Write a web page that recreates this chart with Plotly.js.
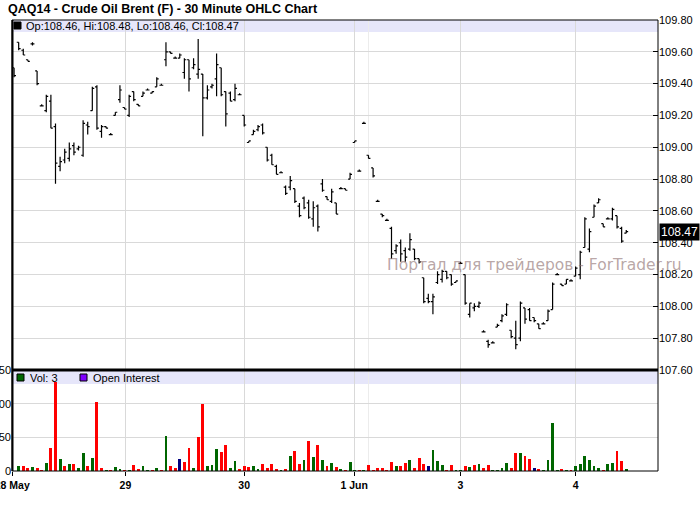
<!DOCTYPE html>
<html><head><meta charset="utf-8">
<script src="https://cdn.plot.ly/plotly-3.0.1.min.js"></script>
<style>html,body{margin:0;padding:0;background:#fff;}#chart{width:700px;height:512px;}</style>
</head><body><div id="chart"></div>
<script>
const chartTitle = 'QAQ14 - Crude Oil Brent (F) - 30 Minute OHLC Chart';
const watermark = 'Портал для трейдеров - ForTrader.ru';
const dayTicks = [-0.4, 24.2, 50.0, 73.9, 97.0, 122.0];
const dayLabels = ['28 May', '29', '30', '1 Jun', '3', '4'];
const minorDayTicks = [77.0];
const priceTicks = [107.6, 107.8, 108.0, 108.2, 108.4, 108.6, 108.8, 109.0, 109.2, 109.4, 109.6, 109.8];
const volTicks = [0, 50, 100, 150];

const openP = [109.50,109.66,109.61,109.55,109.65,109.48,109.26,109.23,109.29,109.13,108.88,108.92,108.93,109.01,108.99,108.95,109.14,109.23,109.38,109.10,
109.13,109.08,109.20,109.30,109.25,109.20,109.35,109.27,109.32,109.36,109.34,109.38,109.39,109.55,109.60,109.56,109.56,109.47,109.55,109.50,
109.46,109.46,109.31,109.38,109.43,109.50,109.35,109.34,109.30,109.33,109.20,109.03,109.08,109.11,109.14,109.00,108.95,108.88,108.84,108.75,
108.75,108.74,108.63,108.68,108.65,108.55,108.63,108.77,108.69,108.66,108.65,108.74,108.74,108.80,109.03,108.85,109.15,108.95,108.87,108.66,
108.58,108.54,108.49,108.35,108.40,108.35,108.36,108.36,108.30,108.18,108.05,108.03,108.15,108.17,108.22,108.20,108.15,108.27,108.20,107.95,
107.99,108.00,107.84,107.78,107.77,107.87,107.91,107.95,107.85,107.80,107.80,107.99,107.98,107.93,107.89,107.89,107.91,107.98,108.20,108.14,
108.14,108.16,108.19,108.20,108.37,108.36,108.56,108.65,108.52,108.55,108.55,108.57,108.49,108.46];
const highP = [109.50,109.66,109.62,109.55,109.66,109.48,109.27,109.33,109.33,109.15,108.94,108.99,109.03,109.03,109.01,109.17,109.16,109.38,109.39,109.14,
109.13,109.09,109.22,109.39,109.25,109.33,109.35,109.27,109.35,109.37,109.35,109.44,109.40,109.66,109.60,109.57,109.59,109.56,109.55,109.56,
109.68,109.46,109.39,109.40,109.59,109.50,109.35,109.35,109.40,109.34,109.20,109.04,109.11,109.14,109.15,109.00,108.96,108.89,108.85,108.76,
108.82,108.74,108.65,108.69,108.67,108.66,108.64,108.80,108.69,108.74,108.65,108.75,108.74,108.84,109.04,108.86,109.16,108.95,108.87,108.67,
108.58,108.55,108.50,108.39,108.42,108.37,108.46,108.36,108.30,108.18,108.08,108.08,108.22,108.23,108.22,108.20,108.16,108.28,108.20,108.02,
108.02,108.03,107.85,107.79,107.78,107.89,107.95,108.02,107.85,107.91,108.03,107.99,107.99,107.93,107.89,107.90,107.98,108.15,108.21,108.14,
108.17,108.17,108.25,108.35,108.56,108.49,108.64,108.68,108.52,108.56,108.62,108.57,108.50,108.48];
const lowP = [109.44,109.61,109.58,109.54,109.64,109.39,109.26,109.22,109.12,108.77,108.85,108.90,108.91,108.95,108.98,108.94,109.08,109.23,109.11,109.06,
109.12,109.08,109.20,109.28,109.24,109.19,109.29,109.26,109.32,109.36,109.34,109.38,109.39,109.51,109.59,109.56,109.56,109.43,109.35,109.49,
109.43,109.07,109.30,109.37,109.32,109.32,109.13,109.29,109.29,109.33,109.13,109.03,109.08,109.10,109.08,108.91,108.89,108.83,108.84,108.70,
108.73,108.65,108.56,108.61,108.55,108.50,108.47,108.72,108.67,108.65,108.58,108.74,108.73,108.80,109.03,108.85,109.15,108.93,108.81,108.66,
108.56,108.54,108.30,108.33,108.28,108.28,108.35,108.29,108.27,108.02,108.02,107.95,108.14,108.15,108.17,108.13,108.15,108.27,108.01,107.93,
107.97,107.99,107.84,107.74,107.77,107.87,107.90,107.94,107.80,107.73,107.78,107.89,107.91,107.90,107.86,107.89,107.91,107.98,108.20,108.13,
108.14,108.16,108.19,108.17,108.37,108.34,108.56,108.65,108.50,108.55,108.54,108.49,108.40,108.46];
const closeP = [109.45,109.62,109.58,109.54,109.65,109.40,109.26,109.32,109.12,108.90,108.91,108.97,108.99,108.97,109.00,109.15,109.13,109.37,109.12,109.13,
109.12,109.08,109.22,109.36,109.24,109.32,109.30,109.26,109.34,109.36,109.35,109.43,109.39,109.60,109.59,109.56,109.58,109.55,109.43,109.52,
109.49,109.31,109.36,109.39,109.52,109.33,109.21,109.29,109.37,109.33,109.14,109.04,109.10,109.13,109.09,108.92,108.89,108.83,108.84,108.71,
108.79,108.66,108.57,108.62,108.56,108.62,108.50,108.73,108.67,108.72,108.58,108.74,108.73,108.83,109.04,108.85,109.15,108.93,108.82,108.66,
108.57,108.54,108.33,108.38,108.33,108.31,108.42,108.30,108.28,108.03,108.03,108.06,108.20,108.22,108.18,108.14,108.16,108.27,108.02,108.02,
108.00,108.02,107.84,107.76,107.77,107.88,107.94,108.01,107.81,107.76,108.02,107.92,107.91,107.91,107.86,107.89,107.97,108.14,108.20,108.13,
108.17,108.16,108.24,108.34,108.55,108.47,108.63,108.67,108.50,108.55,108.61,108.50,108.41,108.47];
const volume = [0,8,8,5,6,5,2,12,34,132,18,8,11,11,5,26,8,20,103,5,
2,2,6,3,2,2,9,3,8,2,2,5,2,52,8,5,18,14,34,5,
50,99,8,9,32,28,38,5,15,3,8,6,8,3,11,5,11,3,2,3,
23,29,11,17,44,21,38,17,8,12,6,3,2,14,2,2,2,9,2,5,
5,2,14,8,8,12,17,5,20,11,8,31,15,9,2,9,2,2,8,6,
9,11,5,9,2,2,5,12,5,26,27,23,18,5,3,2,17,72,2,3,
2,2,8,11,23,17,8,5,2,11,12,29,15,3];
const volDir = ['n','u','d','d','u','d','d','u','d','d','u','d','u','d','u','u','d','u','d','d',
'u','d','u','u','d','u','d','d','u','u','d','u','d','u','d','d','n','d','d','u',
'd','d','u','u','u','d','d','u','u','d','d','d','u','u','d','d','d','d','u','d',
'u','d','d','u','d','u','d','u','d','u','d','u','d','u','u','d','u','d','d','d',
'd','d','d','u','d','d','u','d','d','d','n','u','u','u','d','d','u','u','d','u',
'd','u','d','d','u','u','u','u','d','d','u','d','d','n','d','u','u','u','u','d',
'u','d','u','u','u','u','u','u','d','u','u','d','d','u'];

const n = openP.length;
const xIdx = openP.map((_, i) => i);
const dirColor = {u: '#006600', d: '#ff0000', n: '#000080'};
const volColors = volDir.map(d => dirColor[d]);

// pixel helpers for decoration placement
const L = 12, R = 42, T = 20, B = 41, W = 700, H = 512;
const PW = W - L - R, PH = H - T - B;
const px = v => (v - L) / PW;
const py = v => 1 - (v - T) / PH;
const volTop = 370;
const splitY = py(volTop);

const FONT = 'Liberation Sans, Arial, sans-serif';
const gridCol = '#d9d9d9';

const traces = [
  {type: 'ohlc', x: xIdx, open: openP, high: highP, low: lowP, close: closeP,
   xaxis: 'x', yaxis: 'y', tickwidth: 0.42,
   increasing: {line: {color: '#000', width: 1.2}},
   decreasing: {line: {color: '#000', width: 1.2}},
   hoverinfo: 'skip'},
  {type: 'bar', x: xIdx, y: volume, xaxis: 'x', yaxis: 'y2',
   marker: {color: volColors, line: {width: 0}}, width: 0.62, hoverinfo: 'skip'}
];

const shapes = [
  {type: 'rect', xref: 'paper', yref: 'paper', x0: 0, x1: 1, y0: py(32), y1: 1, fillcolor: '#e6e6fa', line: {width: 0}, layer: 'below'},
  {type: 'rect', xref: 'paper', yref: 'paper', x0: 0, x1: 1, y0: py(384), y1: splitY, fillcolor: '#e6e6fa', line: {width: 0}, layer: 'below'},
  {type: 'line', xref: 'x', yref: 'paper', x0: minorDayTicks[0], x1: minorDayTicks[0], y0: 0, y1: 1, line: {color: '#ececec', width: 1}, layer: 'below'},
  {type: 'rect', xref: 'paper', yref: 'paper', x0: 0, x1: 1, y0: 0, y1: 1, line: {color: '#000', width: 1}},
  {type: 'line', xref: 'paper', yref: 'paper', x0: px(12.5), x1: px(12.5), y0: 0, y1: 1, line: {color: '#000', width: 2}},
  {type: 'line', xref: 'paper', yref: 'paper', x0: 0, x1: 1, y0: splitY, y1: splitY, line: {color: '#000', width: 3}},
  {type: 'rect', xref: 'paper', yref: 'paper', x0: px(14), x1: px(21), y0: py(29), y1: py(22), fillcolor: '#000', line: {color: '#000', width: 1}},
  {type: 'rect', xref: 'paper', yref: 'paper', x0: px(17), x1: px(24), y0: py(381), y1: py(374), fillcolor: '#006600', line: {color: '#000', width: 1}},
  {type: 'rect', xref: 'paper', yref: 'paper', x0: px(80), x1: px(87), y0: py(381), y1: py(374), fillcolor: '#8000ff', line: {color: '#000', width: 1}}
];

const last = n - 1;
const annotations = [
  {xref: 'paper', yref: 'paper', x: px(24), y: py(26), xanchor: 'left', yanchor: 'middle', showarrow: false,
   text: 'Op:' + openP[last].toFixed(2) + ', Hi:' + highP[last].toFixed(2) + ', Lo:' + lowP[last].toFixed(2) + ', Cl:' + closeP[last].toFixed(2),
   font: {family: FONT, size: 11, color: '#000'}},
  {xref: 'paper', yref: 'paper', x: px(28), y: py(378), xanchor: 'left', yanchor: 'middle', showarrow: false,
   text: 'Vol: ' + volume[last], font: {family: FONT, size: 11, color: '#000'}},
  {xref: 'paper', yref: 'paper', x: px(91), y: py(378), xanchor: 'left', yanchor: 'middle', showarrow: false,
   text: 'Open Interest', font: {family: FONT, size: 11, color: '#000'}},
  {xref: 'paper', yref: 'y', x: 1, y: closeP[last], xanchor: 'left', yanchor: 'middle', xshift: 1, showarrow: false,
   text: closeP[last].toFixed(2), bgcolor: '#000', borderpad: 1, font: {family: FONT, size: 12, color: '#fff'}},
  {xref: 'paper', yref: 'paper', x: px(385), y: py(265), xanchor: 'left', yanchor: 'middle', showarrow: false,
   text: watermark, font: {family: 'DejaVu Sans, sans-serif', size: 15.5, color: 'rgba(140,110,110,0.62)'}}
];

const layout = {
  width: W, height: H,
  margin: {l: L, r: R, t: T, b: B, pad: 0},
  paper_bgcolor: '#fff', plot_bgcolor: '#fff',
  showlegend: false,
  title: {text: chartTitle, x: 8 / W, xanchor: 'left', y: 1 - 9 / H, yanchor: 'middle',
          font: {family: FONT, size: 12.5, weight: 700, color: '#000'}},
  xaxis: {domain: [0, 1], anchor: 'y2', range: [-0.45, 139.9], rangeslider: {visible: false},
          tickmode: 'array', tickvals: dayTicks, ticktext: dayLabels, ticklabeloverflow: 'allow',
          ticks: 'outside', ticklen: 4, tickcolor: '#000', tickwidth: 1,
          tickfont: {family: FONT, size: 10.5, weight: 700, color: '#000'},
          showgrid: true, gridcolor: gridCol, gridwidth: 1, zeroline: false, showline: false, fixedrange: true},
  yaxis: {domain: [splitY, 1], anchor: 'x', side: 'right', range: [107.6, 109.8],
          tickmode: 'array', tickvals: priceTicks, ticktext: priceTicks.map(v => v.toFixed(2)),
          ticks: 'inside', ticklen: 5, tickcolor: '#000', tickwidth: 1,
          tickfont: {family: FONT, size: 11, color: '#000'},
          showgrid: true, gridcolor: gridCol, zeroline: false, showline: false, fixedrange: true},
  yaxis2: {domain: [0, splitY], anchor: 'x', side: 'left', range: [0, 150],
           tickmode: 'array', tickvals: volTicks, ticktext: volTicks.map(String), ticklabeloverflow: 'allow',
           ticks: '', tickfont: {family: FONT, size: 11, color: '#000'},
           showgrid: true, gridcolor: gridCol, zeroline: false, showline: false, fixedrange: true},
  shapes: shapes,
  annotations: annotations,
  bargap: 0
};

Plotly.newPlot('chart', traces, layout, {staticPlot: true, displayModeBar: false});
</script>
</body></html>
